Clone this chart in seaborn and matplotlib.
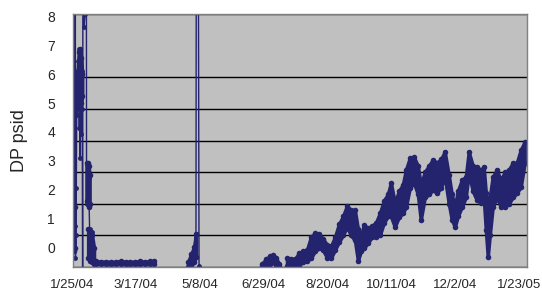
"""Differential pressure history, Jan 2004 - Jan 2005."""

import matplotlib

matplotlib.use("Agg")
import matplotlib.pyplot as plt
import matplotlib.transforms as mtransforms
import numpy as np
import pandas as pd
import seaborn as sns

START = pd.Timestamp("2004-01-25")
NAVY = "#23236e"

# x tick labels (every 52 days)
TICK_LABELS = ["1/25/04", "3/17/04", "5/8/04", "6/29/04", "8/20/04", "10/11/04", "12/2/04", "1/23/05"]
Y_LABELS = ["0", "1", "2", "3", "4", "5", "6", "7", "8"]

# start-up spike: raw readings (days after 1/25/04, DP); 30 / -3 are off-scale readings
SPIKE_DAYS = [-1.6, -1.4, -1.0, -0.8, -0.5, -0.3, 0.0, 0.3, 0.6, 1.0, 1.4, 1.8, 2.2, 2.6,
              3.0, 3.4, 3.8, 4.1, 4.5, 4.9, 5.2, 5.5, 5.8, 6.2, 6.5, 7.3, 8.1, 8.9, 9.3,
              9.7, 10.1, 10.6, 11.0, 11.4, 11.8, 12.2, 12.6, 13.0, 13.4, 13.8, 14.6, 15.4, 17.0]
SPIKE_DP = [0.5, 1.9, 0.8, 2.0, 0.6, 1.3, 30.0, 0.3, 1.0, 2.5, 5.5, 4.8, 6.5, 5.2,
            6.9, 4.4, 6.0, 3.45, 5.8, 6.6, 4.2, 6.2, 5.0, -3.0, 30.0, 7.6, 8.0, 30.0, 3.3,
            2.0, 3.0, 2.2, 2.8, 1.96, 1.2, 0.3, 1.0, 0.5, 1.1, 0.25, 0.6, 0.15, 0.12]

# dense clusters inside the spike (low / high envelope)
SPIKE_A_DAYS = [-1.6, -1.0, -0.4]
SPIKE_A_LOW = [0.6, 0.5, 0.6]
SPIKE_A_HIGH = [1.9, 2.0, 1.9]
SPIKE_B_DAYS = [1.0, 2.0, 3.0, 4.0, 5.0, 5.8]
SPIKE_B_LOW = [5.0, 5.2, 5.3, 5.1, 5.2, 5.4]
SPIKE_B_HIGH = [5.9, 6.2, 6.8, 6.9, 6.6, 6.1]
SPIKE_C_DAYS = [9.3, 10.2, 11.0, 11.8]
SPIKE_C_LOW = [2.1, 2.0, 1.9, 2.0]
SPIKE_C_HIGH = [3.3, 3.3, 3.2, 2.9]
SPIKE_D_DAYS = [10.6, 12.2, 13.8, 15.4]
SPIKE_D_LOW = [0.3, 0.2, 0.15, 0.1]
SPIKE_D_HIGH = [1.2, 1.1, 1.0, 0.6]

# flat period after the spike
FLAT_DAYS = [17, 21, 25, 29, 33, 37, 41, 45, 49, 53, 57, 61, 64]
FLAT_LOW = [0.09, 0.1, 0.09, 0.08, 0.09, 0.1, 0.09, 0.09, 0.08, 0.09, 0.1, 0.09, 0.1]
FLAT_HIGH = [0.18, 0.17, 0.17, 0.16, 0.17, 0.18, 0.17, 0.16, 0.17, 0.18, 0.17, 0.18, 0.19]

# early May run, then the off-scale reading and the drop back
MAY_DAYS = [91.8, 94.3, 96.7, 98.3]
MAY_LOW = [0.0, 0.05, 0.15, 0.32]
MAY_HIGH = [0.16, 0.4, 0.63, 1.05]
MAY_TAIL_DAYS = [98.3, 99.1, 100.8]
MAY_TAIL_DP = [1.05, 30.0, 0.02]

# late June hump
JUNE_DAYS = [151.9, 155.2, 158.4, 160.9, 163.3, 165.8]
JUNE_LOW = [0.02, 0.05, 0.1, 0.15, 0.05, 0.02]
JUNE_HIGH = [0.1, 0.25, 0.35, 0.38, 0.3, 0.1]

# main run from July onwards
MAIN_DAYS = [172.3, 175.5, 178.8, 182.0, 185.3, 188.5, 191.8, 195.0, 198.3, 201.5, 204.8,
             208.0, 211.3, 214.5, 217.8, 221.0, 224.3, 227.5, 230.0, 232.4, 234.9, 238.1,
             241.3, 244.6, 247.8, 251.1, 254.3, 256.8, 260.0, 263.3, 266.5, 269.0, 272.2,
             275.5, 278.7, 281.1, 284.4, 287.6, 290.9, 294.1, 297.4, 300.6, 303.9, 306.3,
             308.8, 311.2, 314.5, 317.7, 320.1, 323.4, 326.6, 329.9, 332.3, 334.0, 335.6,
             337.2, 339.6, 342.9, 346.1, 349.4, 352.6, 355.9, 359.1, 362.4, 365.6]
MAIN_LOW = [0.02, 0.05, 0.1, 0.06, 0.16, 0.2, 0.28, 0.5, 0.6, 0.54, 0.3,
            0.28, 0.54, 0.79, 1.0, 1.27, 1.0, 0.85, 0.2, 0.5, 0.6, 0.76,
            0.95, 0.95, 1.0, 1.4, 1.6, 1.6, 1.27, 1.58, 1.7, 1.9, 2.5,
            2.66, 2.3, 1.49, 2.2, 2.3, 2.44, 2.34, 2.5, 2.85, 2.0, 1.5,
            1.27, 1.6, 1.9, 2.2, 2.97, 2.4, 2.12, 2.03, 2.2, 1.17, 0.32,
            1.0, 1.9, 2.2, 1.9, 1.9, 2.0, 2.2, 2.34, 2.53, 3.29]
MAIN_HIGH = [0.28, 0.25, 0.25, 0.44, 0.5, 0.54, 0.95, 1.07, 1.05, 0.9, 0.7,
             0.65, 0.95, 1.35, 1.6, 1.93, 1.8, 1.8, 1.2, 1.0, 1.33, 1.23,
             1.3, 1.4, 1.7, 2.1, 2.3, 2.66, 2.03, 2.4, 2.6, 3.07, 3.45,
             3.48, 3.2, 2.6, 3.0, 3.2, 3.39, 3.3, 3.4, 3.64, 2.9, 2.3,
             1.9, 2.4, 2.75, 2.85, 3.64, 3.2, 3.16, 3.07, 3.16, 2.34, 1.17,
             2.2, 2.85, 3.07, 2.75, 3.0, 3.07, 3.29, 3.29, 3.7, 3.96]

BANDS = {
    "spike_a": (SPIKE_A_DAYS, SPIKE_A_LOW, SPIKE_A_HIGH),
    "spike_b": (SPIKE_B_DAYS, SPIKE_B_LOW, SPIKE_B_HIGH),
    "spike_c": (SPIKE_C_DAYS, SPIKE_C_LOW, SPIKE_C_HIGH),
    "spike_d": (SPIKE_D_DAYS, SPIKE_D_LOW, SPIKE_D_HIGH),
    "flat": (FLAT_DAYS, FLAT_LOW, FLAT_HIGH),
    "may": (MAY_DAYS, MAY_LOW, MAY_HIGH),
    "june": (JUNE_DAYS, JUNE_LOW, JUNE_HIGH),
    "main": (MAIN_DAYS, MAIN_LOW, MAIN_HIGH),
}
RAW = {
    "spike": (SPIKE_DAYS, SPIKE_DP),
    "may_tail": (MAY_TAIL_DAYS, MAY_TAIL_DP),
}


def to_dates(days):
    return START + pd.to_timedelta(days, unit="D")


def zigzag_frame():
    """Scattered readings alternating between envelope edges."""
    frames = []
    for name, (days, low, high) in BANDS.items():
        d, v = [], []
        for day, lo, hi in zip(days, low, high):
            d += [day, day]
            v += [lo, hi]
        frames.append(pd.DataFrame({"segment": name, "date": to_dates(d), "dp": v}))
    return pd.concat(frames, ignore_index=True)


def raw_frame():
    frames = [pd.DataFrame({"segment": name, "date": to_dates(d), "dp": v})
              for name, (d, v) in RAW.items()]
    return pd.concat(frames, ignore_index=True)


sns.set_theme(style="white")
plt.rcParams["font.family"] = ["Liberation Sans", "DejaVu Sans"]

fig, ax = plt.subplots(figsize=(5.42, 2.93), dpi=100)
fig.subplots_adjust(left=73 / 542, right=527 / 542, top=1 - 14 / 293, bottom=1 - 267 / 293)
ax.set_facecolor("#c0c0c0")

# dense readings blur into a solid band
for days, low, high in BANDS.values():
    ax.fill_between(to_dates(days), low, high, color=NAVY, linewidth=2.5, edgecolor=NAVY)

sns.lineplot(
    data=zigzag_frame(), x="date", y="dp", units="segment", estimator=None, sort=False,
    color=NAVY, linewidth=1.0, marker="o", markersize=4.0, markeredgewidth=0,
    ax=ax, legend=False,
)
sns.lineplot(
    data=raw_frame(), x="date", y="dp", units="segment", estimator=None, sort=False,
    color=NAVY, linewidth=1.0, marker="o", markersize=3.5, markeredgewidth=0,
    ax=ax, legend=False,
)

ax.set_xlim(START - pd.Timedelta(days=1.7), START + pd.Timedelta(days=367.5))
ax.set_ylim(0, 8)

tick_dates = pd.to_datetime(TICK_LABELS, format="%m/%d/%y")
ax.set_xticks(tick_dates, labels=TICK_LABELS)
ax.tick_params(axis="x", direction="inout", length=8, width=1, color="#222222",
               labelsize=9.5, pad=5)
shift = mtransforms.ScaledTranslation(-0.035, 0, fig.dpi_scale_trans)
for label in ax.get_xticklabels():
    label.set_transform(label.get_transform() + shift)

# gridlines at integers; the printed labels sit slightly off them as in the original
ax.set_yticks(np.arange(9), minor=True)
ax.set_yticks(np.linspace(0.63, 7.91, 9), labels=Y_LABELS)
ax.tick_params(axis="y", which="both", length=0, labelsize=10, pad=13)
ax.grid(which="minor", axis="y", color="black", linewidth=1.0)
ax.grid(which="major", visible=False)
ax.set_axisbelow(True)

for spine in ax.spines.values():
    spine.set_color("#808080")
    spine.set_linewidth(1.0)

ax.set_xlabel("")
ax.set_ylabel("DP psid", fontsize=13, labelpad=14)

fig.savefig("out.png", dpi=100)
